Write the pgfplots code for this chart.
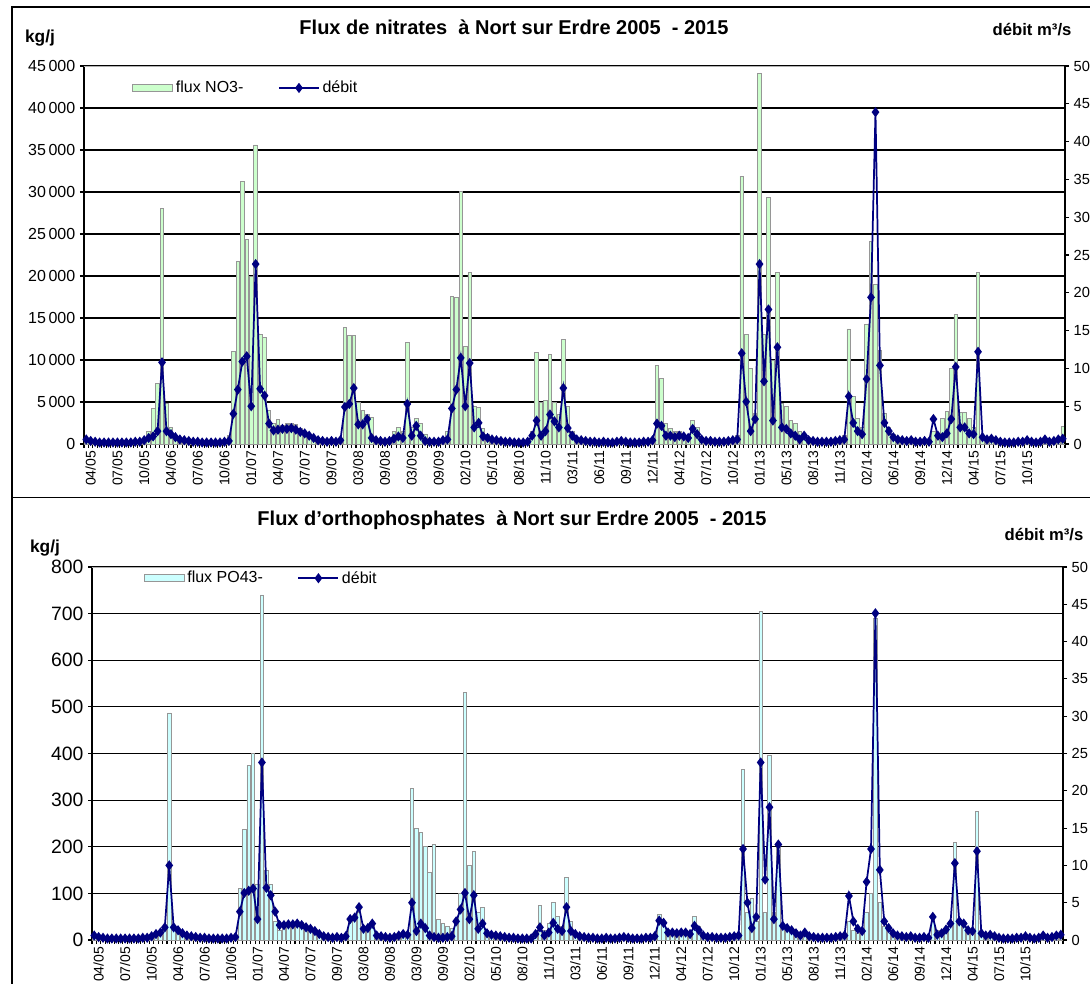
\documentclass[border=0pt]{standalone}
\usepackage{pgfplots}
\pgfplotsset{compat=1.18}
\usepackage{pgfplotstable}
\usepackage{fontspec}
\setmainfont{Liberation Sans}
\definecolor{nogreen}{HTML}{CCFFCC}
\definecolor{pocyan}{HTML}{CCFFFF}
\definecolor{baredge}{HTML}{969696}
\definecolor{navy}{HTML}{000080}

\pgfplotstableread{
i q1 n q2 p
0 0.6 300 0.6 5
1 0.4 200 0.4 4
2 0.3 150 0.3 3
3 0.2 100 0.2 2
4 0.2 100 0.2 2
5 0.2 80 0.2 2
6 0.2 80 0.2 2
7 0.2 80 0.2 2
8 0.2 80 0.2 2
9 0.2 80 0.2 2
10 0.2 100 0.2 2
11 0.3 150 0.3 3
12 0.3 200 0.3 3
13 0.5 600 0.5 5
14 0.8 1500 0.8 8
15 1.0 4200 1.0 12
16 1.7 7200 1.7 20
17 10.8 28000 10.0 487
18 1.7 4800 1.7 30
19 1.3 2000 1.3 20
20 0.9 800 0.9 10
21 0.6 500 0.6 6
22 0.5 300 0.5 5
23 0.4 200 0.4 4
24 0.3 150 0.3 3
25 0.3 120 0.3 3
26 0.2 100 0.2 2
27 0.2 100 0.2 2
28 0.2 100 0.2 2
29 0.2 100 0.2 2
30 0.2 100 0.2 2
31 0.3 200 0.3 3
32 0.4 1000 0.4 5
33 4.0 11000 3.8 110
34 7.2 21700 6.3 237
35 10.9 31300 6.6 375
36 11.6 24400 6.9 400
37 5.0 20000 2.8 120
38 23.8 35600 23.8 740
39 7.3 13000 7.0 150
40 6.4 12700 6.0 120
41 2.7 4000 3.8 40
42 1.8 2500 2.0 20
43 1.9 2900 2.0 25
44 2.0 2200 2.1 30
45 2.0 2400 2.1 30
46 2.1 2500 2.2 35
47 1.9 2300 2.0 38
48 1.6 1900 1.7 30
49 1.4 1500 1.5 25
50 1.1 1200 1.2 20
51 0.8 800 0.8 12
52 0.5 500 0.5 8
53 0.4 300 0.4 6
54 0.3 300 0.3 5
55 0.4 300 0.4 5
56 0.3 300 0.3 5
57 0.5 500 0.5 8
58 4.9 13900 2.8 40
59 5.3 12900 3.0 45
60 7.4 12900 4.4 60
61 2.6 5000 1.5 20
62 2.6 4000 1.6 25
63 3.3 3500 2.2 30
64 0.8 3200 0.6 10
65 0.5 800 0.5 8
66 0.4 400 0.4 5
67 0.3 300 0.3 5
68 0.4 500 0.4 6
69 0.7 1500 0.6 10
70 1.0 2000 0.8 15
71 0.8 1500 0.7 12
72 5.3 12100 5.0 325
73 1.1 2000 1.2 240
74 2.4 3000 2.2 230
75 1.1 2500 1.6 200
76 0.4 1200 0.6 145
77 0.3 600 0.4 205
78 0.3 400 0.3 45
79 0.3 400 0.3 35
80 0.5 500 0.4 30
81 0.6 1500 0.5 25
82 4.7 17600 2.5 40
83 7.2 17400 4.1 100
84 11.4 30100 6.3 530
85 5.0 11600 2.8 160
86 10.7 20400 6.0 190
87 2.2 4500 1.5 60
88 2.8 4400 2.2 70
89 1.0 1800 0.9 20
90 0.8 1200 0.7 12
91 0.6 800 0.6 8
92 0.5 600 0.5 6
93 0.4 400 0.4 5
94 0.3 300 0.3 4
95 0.3 300 0.3 4
96 0.2 200 0.2 3
97 0.2 200 0.2 3
98 0.2 200 0.2 3
99 0.3 300 0.2 3
100 1.1 1500 0.8 15
101 3.1 10900 1.7 75
102 1.1 5000 0.6 20
103 1.7 5200 1.0 35
104 3.9 10700 2.3 80
105 3.0 5000 1.5 50
106 2.2 3500 1.2 30
107 7.4 12400 4.4 135
108 2.1 4500 1.2 40
109 1.1 1500 0.8 15
110 0.6 800 0.5 8
111 0.5 600 0.4 6
112 0.4 400 0.3 5
113 0.3 300 0.3 4
114 0.3 300 0.2 4
115 0.2 200 0.2 3
116 0.3 300 0.3 3
117 0.2 200 0.2 3
118 0.2 200 0.2 3
119 0.3 250 0.3 3
120 0.4 300 0.4 4
121 0.3 250 0.3 3
122 0.2 200 0.2 3
123 0.2 200 0.2 3
124 0.2 200 0.2 3
125 0.3 300 0.3 4
126 0.3 300 0.3 4
127 0.5 500 0.5 5
128 2.7 9400 2.6 55
129 2.4 7800 2.3 40
130 1.1 2500 1.0 15
131 1.1 1800 1.0 12
132 0.9 1500 0.9 10
133 1.1 1500 1.0 12
134 1.0 1200 1.0 10
135 0.8 1000 0.8 8
136 2.0 2800 1.9 50
137 1.3 2000 1.3 30
138 0.6 800 0.6 8
139 0.4 500 0.4 5
140 0.4 400 0.4 5
141 0.3 300 0.3 4
142 0.3 300 0.3 4
143 0.3 300 0.3 4
144 0.4 400 0.4 5
145 0.5 500 0.5 6
146 0.6 1000 0.6 10
147 12.0 31900 12.2 365
148 5.6 13000 5.0 60
149 1.7 9000 1.6 90
150 3.3 3700 3.1 40
151 23.8 44100 23.8 705
152 8.3 13000 8.1 60
153 17.8 29400 17.8 395
154 3.1 10000 2.8 60
155 12.8 20400 12.8 200
156 2.2 4800 1.9 30
157 2.0 4500 1.6 25
158 1.4 2800 1.3 20
159 1.1 2500 0.9 15
160 0.6 1500 0.6 10
161 1.1 1000 1.0 12
162 0.5 800 0.5 6
163 0.4 500 0.4 5
164 0.3 400 0.3 4
165 0.3 300 0.3 4
166 0.3 300 0.3 4
167 0.3 300 0.3 4
168 0.4 400 0.4 5
169 0.5 500 0.5 6
170 0.6 1000 0.6 10
171 6.3 13700 5.9 40
172 2.8 5700 2.5 20
173 1.7 3000 1.5 15
174 1.3 2000 1.2 20
175 8.6 14200 7.8 60
176 19.4 24100 12.2 100
177 43.9 19000 43.8 690
178 10.4 11100 9.4 80
179 2.8 3600 2.5 30
180 1.7 2000 1.6 20
181 0.9 1200 0.9 12
182 0.6 800 0.6 8
183 0.5 600 0.5 6
184 0.4 500 0.4 5
185 0.5 500 0.5 5
186 0.3 300 0.3 4
187 0.3 300 0.3 4
188 0.4 300 0.4 4
189 0.3 300 0.3 4
190 3.3 1500 3.1 55
191 1.1 1200 0.7 20
192 0.9 3000 0.9 15
193 1.4 3900 1.4 25
194 3.3 9000 2.2 40
195 10.2 15400 10.3 210
196 2.2 3800 2.5 40
197 2.2 3800 2.2 30
198 1.4 3000 1.3 20
199 1.3 2000 1.2 15
200 12.2 20400 11.9 275
201 0.9 1000 0.9 10
202 0.6 600 0.6 6
203 0.7 500 0.7 6
204 0.5 400 0.5 5
205 0.3 300 0.3 4
206 0.2 200 0.2 3
207 0.2 200 0.2 3
208 0.2 200 0.2 3
209 0.3 200 0.3 3
210 0.3 250 0.3 3
211 0.5 300 0.5 4
212 0.3 250 0.3 3
213 0.2 200 0.2 3
214 0.3 250 0.3 3
215 0.6 300 0.6 4
216 0.3 300 0.3 4
217 0.4 300 0.4 4
218 0.6 400 0.6 5
219 0.7 2100 0.7 10
}\data

\pgfplotsset{
  common/.style={
    scale only axis,
    xmin=-0.5, xmax=219.5,
    axis line style={line width=1.1pt, black},
    tick align=outside, major tick length=3pt, minor tick length=3pt,
    tick style={black, line width=0.8pt},
    scaled y ticks=false,
  },
  xcats/.style={
    xtick={1,7,...,211},
    xticklabels={04/05,07/05,10/05,04/06,07/06,10/06,01/07,04/07,07/07,09/07,03/08,09/08,03/09,09/09,02/10,05/10,08/10,11/10,03/11,06/11,09/11,12/11,04/12,07/12,10/12,01/13,05/13,08/13,11/13,02/14,06/14,09/14,12/14,04/15,07/15,10/15},
    minor xtick={-0.5,0.5,...,219.5},
    major x tick style={draw=none},
    x tick label style={rotate=90, anchor=east, font=\fontsize{10.5}{10.5}\selectfont, inner sep=2pt},
  },
  debitaxis/.style={
    common,
    ymin=0, ymax=50,
    axis y line*=right, axis x line=none,
    ytick={0,5,...,50},
    /pgf/number format/assume math mode=true,
    y tick label style={font=\fontsize{11}{11}\selectfont},
  },
  debitline/.style={navy, line width=1.3pt, mark=diamond*, mark size=2.8pt, mark options={solid, fill=navy}},
  debitleg/.style={legend image code/.code={\draw[mark repeat=2,mark phase=2,#1] plot coordinates {(0pt,0pt) (15pt,0pt) (30pt,0pt)};}},
}

\begin{document}
\begin{tikzpicture}
\useasboundingbox (0pt,0pt) rectangle (817.5pt,-737.25pt);
\fill[white] (0pt,0pt) rectangle (817.5pt,-737.25pt);
% frames
\draw[black, line width=1pt] (9pt,-5.25pt) rectangle (830pt,-373pt);
\draw[black, line width=1pt] (9pt,-373pt) rectangle (830pt,-760pt);

% ===== TOP: nitrates =====
\begin{axis}[common, xcats,
  at={(63pt,-333pt)}, anchor=south west,
  width=735.75pt, height=283.5pt,
  ymin=0, ymax=45000,
  axis x line*=bottom, axis y line*=left,
  ytick={0,5000,...,45000},
  yticklabels={0,5\,000,10\,000,15\,000,20\,000,25\,000,30\,000,35\,000,40\,000,45\,000},
  y tick label style={font=\fontsize{12}{12}\selectfont},
  ymajorgrids, grid style={black, line width=0.8pt},
]
\addplot[ybar, bar shift=0pt, bar width=0.8, fill=nogreen, draw=baredge, line width=0.6pt] table[x=i,y=n]{\data};
\draw[gray!60, line width=1pt] (axis cs:-0.5,45000) -- (axis cs:219.5,45000);
\end{axis}
\begin{axis}[debitaxis,
  at={(63pt,-333pt)}, anchor=south west,
  width=735.75pt, height=283.5pt,
  legend style={at={(0.045,0.942)}, anchor=west, draw=none, fill=none, legend columns=2,
    font=\fontsize{12}{12}\selectfont, /tikz/every even column/.append style={column sep=24pt}},
]
\addlegendimage{legend image code/.code={\draw[fill=nogreen,draw=baredge,line width=0.6pt] (0pt,-2.5pt) rectangle (30pt,2.5pt);}}
\addlegendentry{flux NO3-}
\addplot[debitline, debitleg] table[x=i,y=q1]{\data};
\addlegendentry{débit}
\end{axis}
\node[font=\bfseries\fontsize{15}{15}\selectfont] at (385.5pt,-20.25pt) {Flux de nitrates\ \ à Nort sur Erdre 2005\ \ - 2015};
\node[font=\bfseries\fontsize{13}{13}\selectfont] at (30pt,-28.5pt) {kg/j};
\node[font=\bfseries\fontsize{12.5}{12.5}\selectfont, anchor=west] at (741pt,-22.5pt) {débit m³/s};

% ===== BOTTOM: orthophosphates =====
\begin{axis}[common, xcats,
  at={(69pt,-705pt)}, anchor=south west,
  width=728.25pt, height=279.75pt,
  ymin=0, ymax=800,
  axis x line*=bottom, axis y line*=left,
  ytick={0,100,...,800},
  /pgf/number format/assume math mode=true,
  y tick label style={font=\fontsize{14.5}{14.5}\selectfont},
  ymajorgrids, grid style={black, line width=0.8pt},
]
\addplot[ybar, bar shift=0pt, bar width=0.8, fill=pocyan, draw=baredge, line width=0.6pt] table[x=i,y=p]{\data};
\draw[gray!60, line width=1pt] (axis cs:-0.5,800) -- (axis cs:219.5,800);
\end{axis}
\begin{axis}[debitaxis,
  at={(69pt,-705pt)}, anchor=south west,
  width=728.25pt, height=279.75pt,
  legend style={at={(0.049,0.97)}, anchor=west, draw=none, fill=none, legend columns=2,
    font=\fontsize{12}{12}\selectfont, /tikz/every even column/.append style={column sep=24pt}},
]
\addlegendimage{legend image code/.code={\draw[fill=pocyan,draw=baredge,line width=0.6pt] (0pt,-2.5pt) rectangle (30pt,2.5pt);}}
\addlegendentry{flux PO43-}
\addplot[debitline, debitleg] table[x=i,y=q2]{\data};
\addlegendentry{débit}
\end{axis}
\node[font=\bfseries\fontsize{15}{15}\selectfont] at (384pt,-390pt) {Flux d'orthophosphates\ \ à Nort sur Erdre 2005\ \ - 2015};
\node[font=\bfseries\fontsize{13}{13}\selectfont] at (33.75pt,-411pt) {kg/j};
\node[font=\bfseries\fontsize{12.5}{12.5}\selectfont, anchor=east] at (816pt,-401.25pt) {débit m³/s};
\end{tikzpicture}
\end{document}
